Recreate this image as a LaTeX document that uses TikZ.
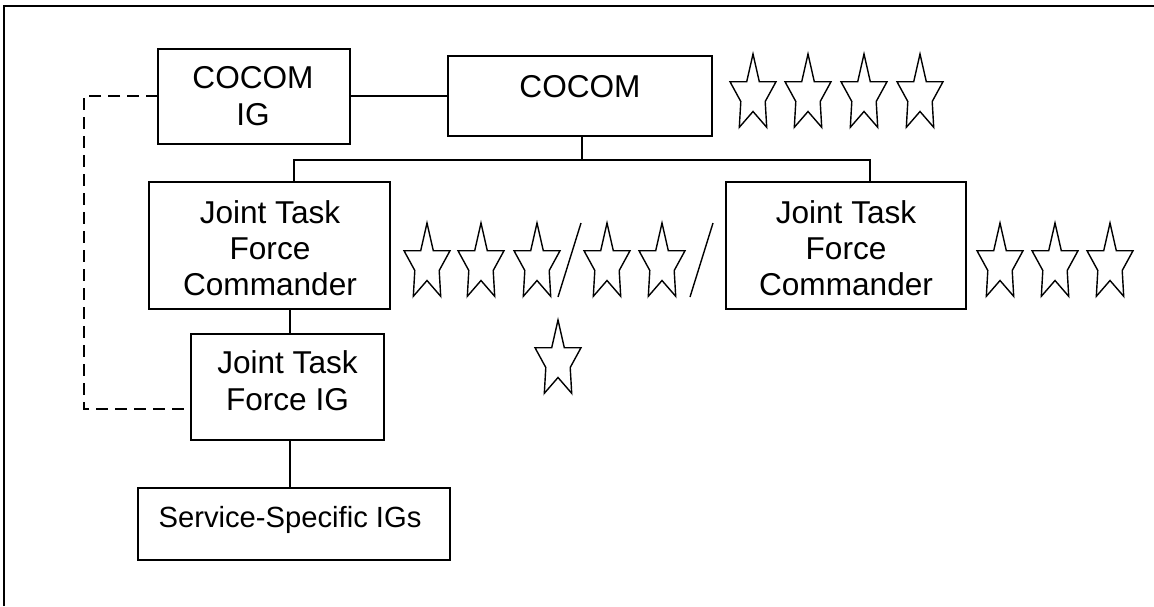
\documentclass[tikz,border=0pt]{standalone}
\usepackage{fontspec}
\setmainfont{Liberation Sans}
\begin{document}
\begin{tikzpicture}[x=0.5pt,y=-0.5pt,
  box/.style={draw, line width=1pt, inner sep=0pt, outer sep=0pt},
  conn/.style={line width=0.75pt},
  dashline/.style={line width=0.8pt, dash pattern=on 6pt off 3.5pt},
  starline/.style={line width=0.7pt, line join=miter},
  frameline/.style={line width=1pt},
  lbl/.style={inner sep=0pt, anchor=base, font=\fontsize{15.8}{18}\selectfont},
  slbl/.style={inner sep=0pt, anchor=base, font=\fontsize{14.6}{17}\selectfont},
  starsym/.pic={\draw[starline] (0,0) -- (6.3,27.7) -- (23,27.7) -- (12.2,47.5) -- (13.7,73.3) -- (0,57.5) -- (-13.7,73.3) -- (-12.2,47.5) -- (-23,27.7) -- (-6.3,27.7) -- cycle;}
]
\useasboundingbox (0,0) rectangle (1154,606);
% frame corner
\draw[frameline] (4,606) -- (4,6) -- (1154,6);

% boxes
\node[box, minimum width=96pt, minimum height=47.5pt] (cocomig) at (254,96) {};
\node[box, minimum width=132pt, minimum height=40pt] (cocom) at (580,96) {};
\node[box, minimum width=120.5pt, minimum height=63.5pt] (jtf1) at (269.5,245.5) {};
\node[box, minimum width=120pt, minimum height=63.5pt] (jtf2) at (846,245.5) {};
\node[box, minimum width=96.5pt, minimum height=53pt] (jtfig) at (287.5,387) {};
\node[box, minimum width=156pt, minimum height=36pt] (svc) at (294,524) {};

% labels
\node[lbl] (t1a) at (253,88) {COCOM};
\node[lbl] (t1b) at (253,125) {IG};
\node[lbl] (t2) at (580,97) {COCOM};
\node[lbl] (t3a) at (270,223) {Joint Task};
\node[lbl] (t3b) at (270,259) {Force};
\node[lbl] (t3c) at (270,295) {Commander};
\node[lbl] (t4a) at (846,223) {Joint Task};
\node[lbl] (t4b) at (846,259) {Force};
\node[lbl] (t4c) at (846,295) {Commander};
\node[lbl] (t5a) at (287.5,373) {Joint Task};
\node[lbl] (t5b) at (287.5,410) {Force IG};
\node[slbl] (t6) at (290,527) {Service-Specific IGs};

% connectors
\draw[conn] (cocomig.east) -- (cocom.west);
\draw[conn] ([xshift=1pt]cocom.south) -- ++(0,24) coordinate (bus);
\draw[conn] (bus) -| ([xshift=12.25pt]jtf1.north);
\draw[conn] (bus) -| ([xshift=12pt]jtf2.north);
\draw[conn] ([xshift=1.25pt]jtfig.north) -- ([xshift=1.25pt]jtfig.north |- jtf1.south);
\draw[conn] ([xshift=1.25pt]jtfig.south) -- ([xshift=1.25pt]jtfig.south |- svc.north);
\coordinate (dl) at (84,409);
\draw[dashline] (cocomig.west) -| (dl) -- ([yshift=-11pt]jtfig.west);

% stars row 1
\foreach \sx in {753,808,864,920} {\pic at (\sx,54) {starsym};}
% stars row 2
\foreach \sx in {427,481,537,607,662} {\pic at (\sx,223) {starsym};}
\draw[starline] (581,223) -- (558,297);
\draw[starline] (713,223) -- (690,297);
\pic at (558,320) {starsym};
% stars right
\foreach \sx in {1000,1055,1110} {\pic at (\sx,223) {starsym};}
\end{tikzpicture}
\end{document}
